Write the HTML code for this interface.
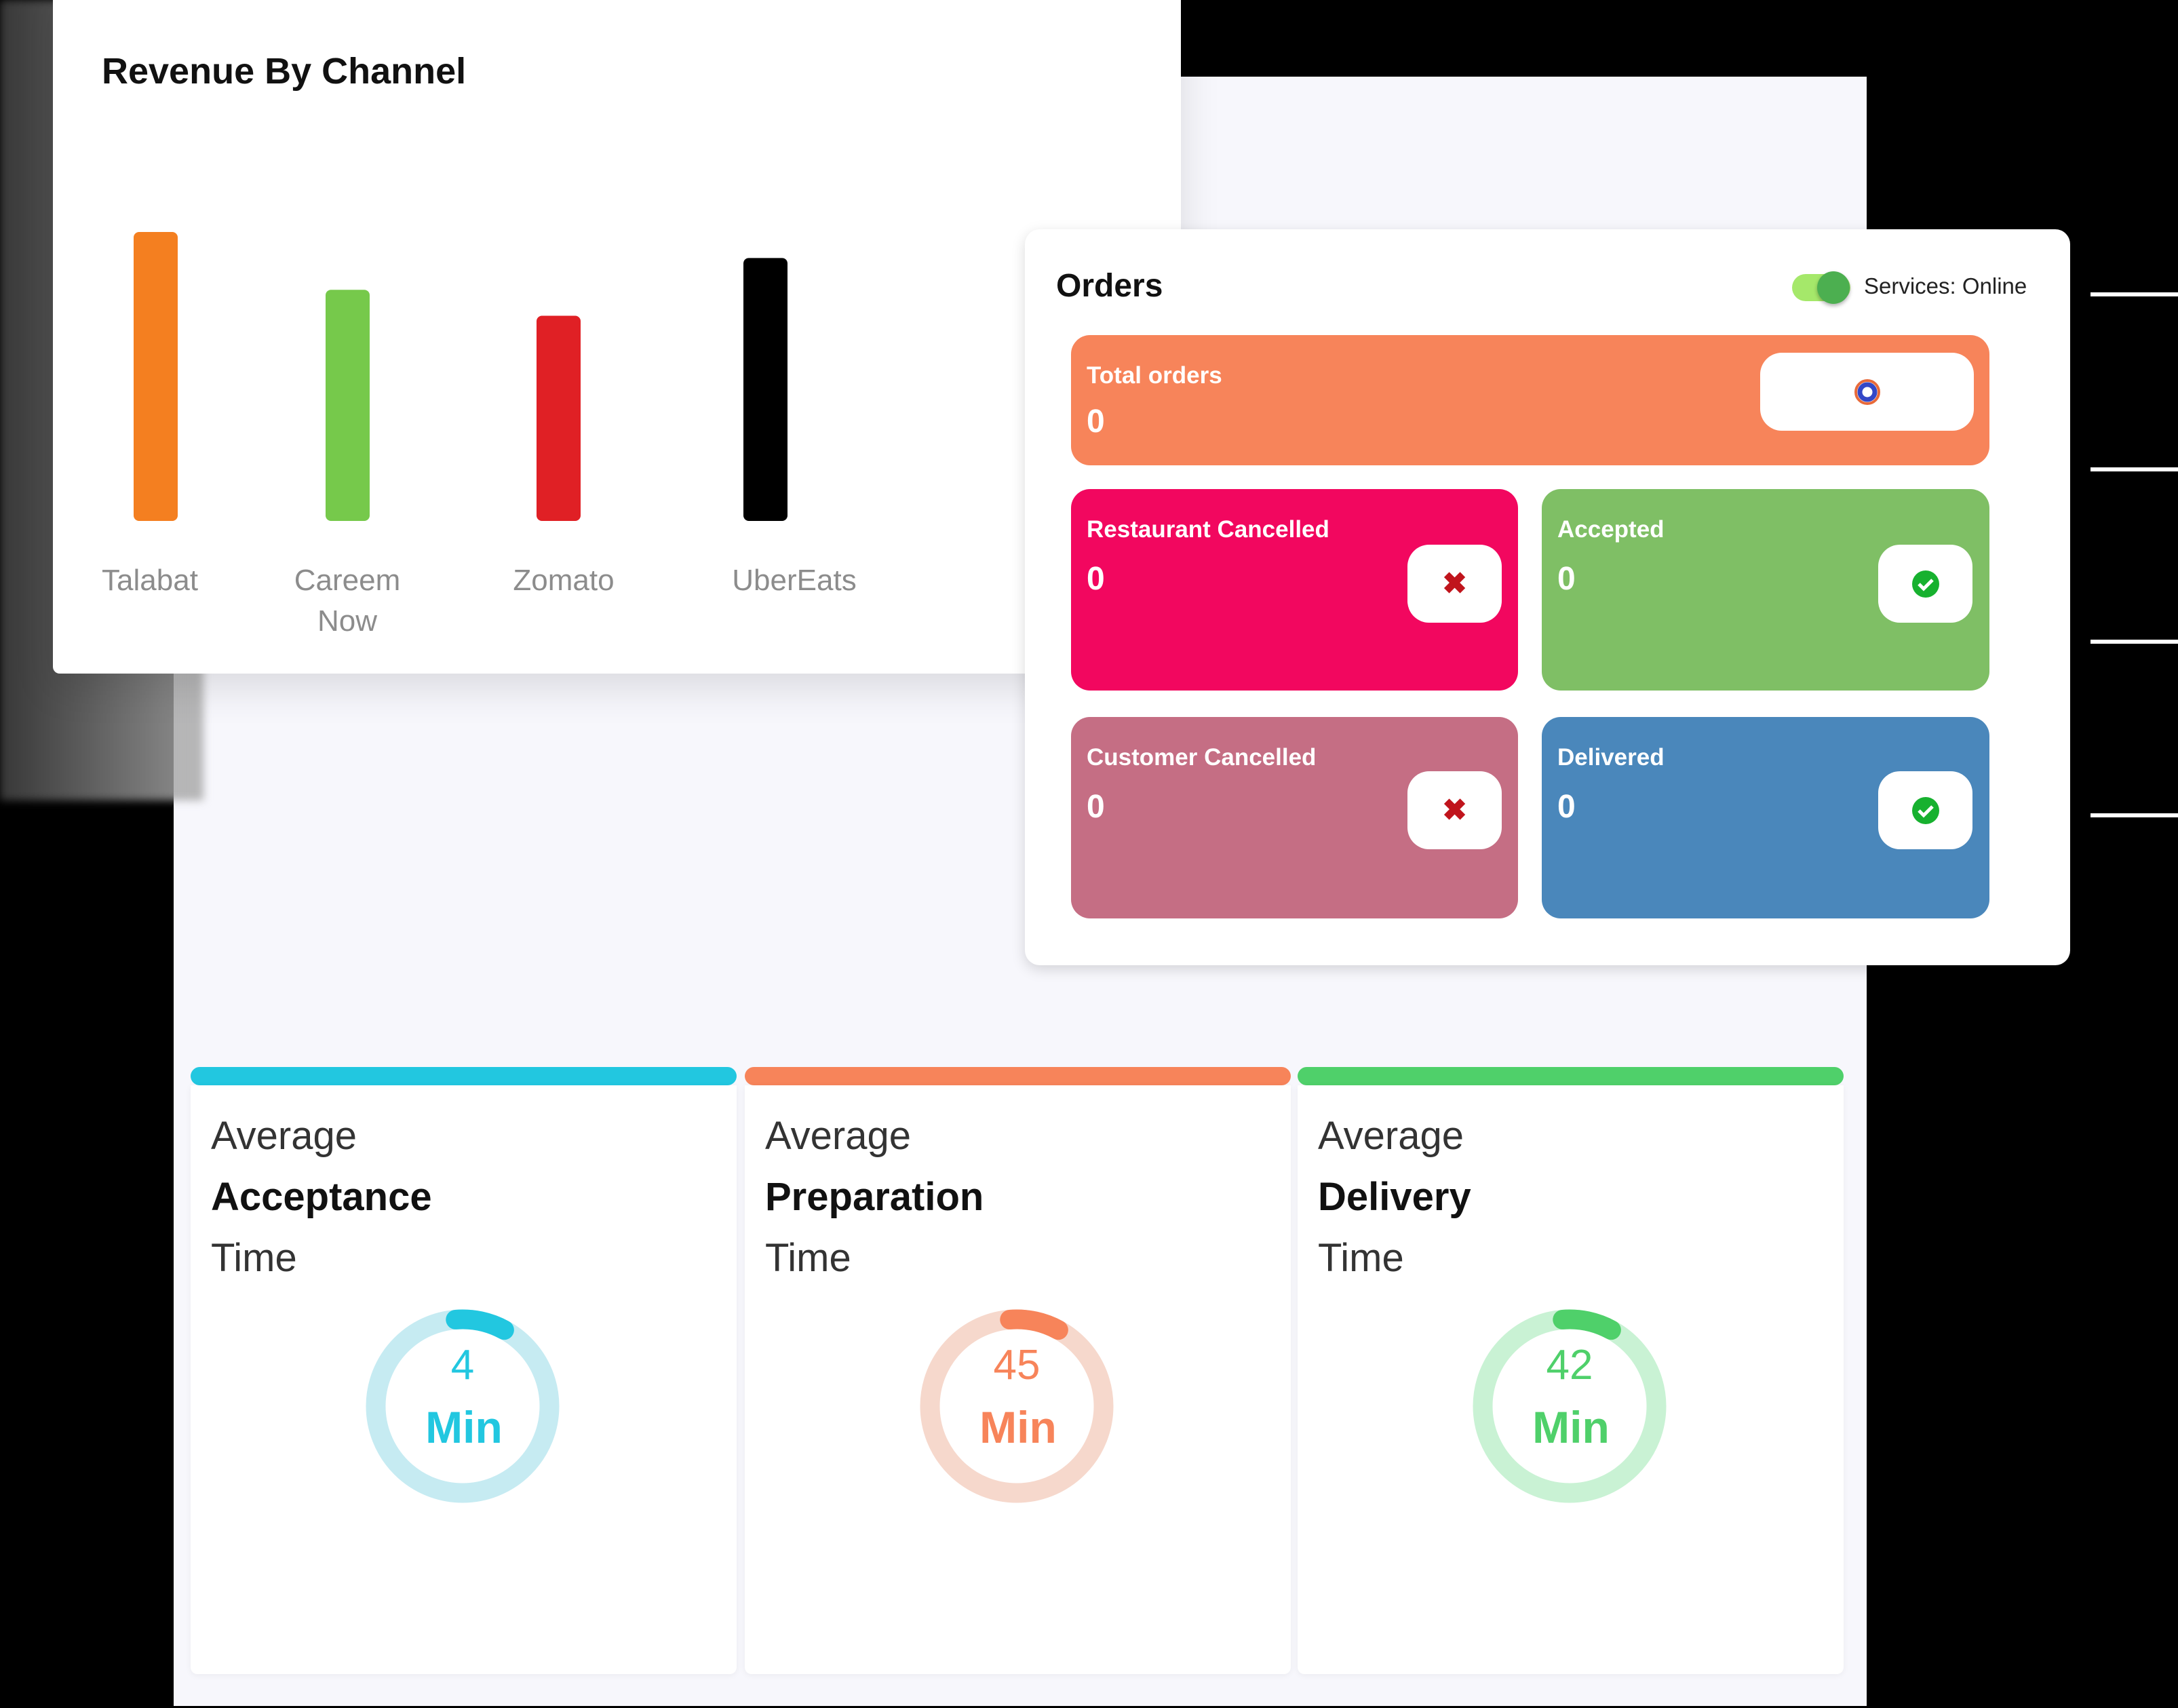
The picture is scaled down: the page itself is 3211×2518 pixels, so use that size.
<!DOCTYPE html>
<html><head><meta charset="utf-8">
<style>
*{margin:0;padding:0;box-sizing:border-box}
body{width:3211px;height:2518px;background:#000;position:relative;overflow:hidden;font-family:"Liberation Sans",sans-serif}
.abs{position:absolute}
.lav{left:256px;top:113px;width:2496px;height:2402px;background:#f7f7fc}
.haze{left:0;top:0;width:300px;height:1180px;background:linear-gradient(90deg,rgba(110,110,110,.5),rgba(170,170,170,.85));filter:blur(6px)}
.rev{left:78px;top:-20px;width:1663px;height:1013px;background:#fff;border-radius:10px;box-shadow:0 20px 60px rgba(0,0,0,.12)}
.title{left:150px;top:74px;font-size:54px;font-weight:600;color:#111}
.lbl{font-size:44px;color:#8c8c8c;text-align:center;width:300px;line-height:60px}
.orders{left:1511px;top:338px;width:1541px;height:1085px;background:#fff;border-radius:22px;box-shadow:0 6px 20px rgba(0,0,0,.15)}
.tile{border-radius:28px;color:#fff}
.tl{font-size:35px;font-weight:600}
.zero{font-size:48px;font-weight:700}
.wb{background:#fff;border-radius:32px;display:flex;align-items:center;justify-content:center}
.line{left:3082px;width:129px;height:6px;background:#fff}
.card{top:1600px;height:868px;background:#fff;border-radius:0 0 10px 10px;box-shadow:0 2px 10px rgba(0,0,0,.05)}
.bar{top:1573px;height:27px;border-radius:14px}
.avg{font-size:58px;color:#333;line-height:90px}
</style></head><body>
<div class="abs lav"></div>
<div class="abs haze"></div>

<div class="abs rev"></div>
<div class="abs title">Revenue By Channel</div>
<svg class="abs" id="chart" style="left:0;top:0" width="1741" height="1000"></svg>

<div class="abs orders"></div>
<div class="abs" style="left:1557px;top:394px;font-size:48px;font-weight:600;color:#111">Orders</div>
<div class="abs" style="left:2642px;top:404px;width:86px;height:40px;border-radius:20px;background:#a5e86a"></div>
<div class="abs" style="left:2679px;top:400px;width:48px;height:48px;border-radius:50%;background:#4caf50;box-shadow:0 3px 6px rgba(0,0,0,.3)"></div>
<div class="abs" style="left:2748px;top:403px;font-size:33px;color:#222">Services: Online</div>

<div class="abs tile" style="left:1579px;top:494px;width:1354px;height:192px;background:#f7845a">
 <div class="abs tl" style="left:23px;top:40px">Total orders</div>
 <div class="abs zero" style="left:23px;top:100px">0</div>
 <div class="abs wb" style="left:1016px;top:26px;width:315px;height:115px">
  <svg width="44" height="44"><circle cx="22" cy="22" r="17" fill="none" stroke="#e86a3a" stroke-width="4"/><circle cx="22" cy="22" r="11" fill="none" stroke="#3347c7" stroke-width="7"/></svg>
 </div>
</div>

<div class="abs tile" style="left:1579px;top:721px;width:659px;height:297px;background:#f2075f">
 <div class="abs tl" style="left:23px;top:40px">Restaurant Cancelled</div>
 <div class="abs zero" style="left:23px;top:105px">0</div>
 <div class="abs wb" style="left:496px;top:82px;width:139px;height:115px"><span style="color:#c0141c;font-size:44px;font-weight:700">✖</span></div>
</div>
<div class="abs tile" style="left:2273px;top:721px;width:660px;height:297px;background:#7fbf65">
 <div class="abs tl" style="left:23px;top:40px">Accepted</div>
 <div class="abs zero" style="left:23px;top:105px">0</div>
 <div class="abs wb" style="left:496px;top:82px;width:139px;height:115px"><svg width="44" height="44"><circle cx="22" cy="22" r="20" fill="#17b12f"/><path d="M12 22l7 7 13-13" stroke="#fff" stroke-width="5" fill="none"/></svg></div>
</div>
<div class="abs tile" style="left:1579px;top:1057px;width:659px;height:297px;background:#c56e84">
 <div class="abs tl" style="left:23px;top:40px">Customer Cancelled</div>
 <div class="abs zero" style="left:23px;top:105px">0</div>
 <div class="abs wb" style="left:496px;top:80px;width:139px;height:115px"><span style="color:#c0141c;font-size:44px;font-weight:700">✖</span></div>
</div>
<div class="abs tile" style="left:2273px;top:1057px;width:660px;height:297px;background:#4a87bb">
 <div class="abs tl" style="left:23px;top:40px">Delivered</div>
 <div class="abs zero" style="left:23px;top:105px">0</div>
 <div class="abs wb" style="left:496px;top:80px;width:139px;height:115px"><svg width="44" height="44"><circle cx="22" cy="22" r="20" fill="#17b12f"/><path d="M12 22l7 7 13-13" stroke="#fff" stroke-width="5" fill="none"/></svg></div>
</div>

<div class="abs line" style="top:431px"></div>
<div class="abs line" style="top:689px"></div>
<div class="abs line" style="top:943px"></div>
<div class="abs line" style="top:1199px"></div>

<div id="cards"></div>

<script>
const categories=["Talabat","Careem Now","Zomato","UberEats"];
const revenue=[100,80,71,91];
const barColors=["#f47f20","#76c94b","#e02025","#000000"];
const barCenters=[229,512,823,1128];
const labelCenters=[221,512,831,1171];
const svg=document.getElementById('chart');
const NS='http://www.w3.org/2000/svg';
const baseY=768, plotH=426, maxV=100;
function y(v){return baseY-v/maxV*plotH;}
categories.forEach((c,i)=>{
  const r=document.createElementNS(NS,'rect');
  r.setAttribute('x',barCenters[i]-32);r.setAttribute('width',65);
  r.setAttribute('y',y(revenue[i]));r.setAttribute('height',baseY-y(revenue[i]));
  r.setAttribute('rx',8);r.setAttribute('fill',barColors[i]);
  
  
  svg.appendChild(r);
  const d=document.createElement('div');
  d.className='abs lbl';
  d.style.left=(labelCenters[i]-150)+'px';d.style.top='826px';
  d.innerHTML=c.replace(' ','<br>');
  
  
  document.body.appendChild(d);
});

const kpiNames=["Acceptance","Preparation","Delivery"];
const kpiValues=[4,45,42];
const kpiColors=["#22c7e0","#f7845a","#4fd06a"];
const kpiTrack=["#c6ebf2","#f6d8cc","#c9f2d4"];
const cardLefts=[281,1098,1913];
const cont=document.getElementById('cards');
kpiNames.forEach((n,i)=>{
  const L=cardLefts[i];
  const bar=document.createElement('div');bar.className='abs bar';
  bar.style.cssText+=`left:${L}px;width:805px;background:${kpiColors[i]}`;
  
  
  cont.appendChild(bar);
  const card=document.createElement('div');card.className='abs card';
  card.style.cssText+=`left:${L}px;width:805px`;
  
  
  card.innerHTML=`<div class="abs avg" style="left:30px;top:30px">Average<br><b style="color:#111">${n}</b><br>Time</div>`;
  cont.appendChild(card);
  const cx=L+401, cy=2073, r=128;
  const s=document.createElementNS(NS,'svg');
  s.setAttribute('class','abs');s.setAttribute('width',320);s.setAttribute('height',320);
  s.style.left=(cx-160)+'px';s.style.top=(cy-160)+'px';
  
  
  const a0=-Math.PI/2-0.08, a1=-Math.PI/2+0.5;
  s.innerHTML=`<circle cx="160" cy="160" r="${r}" fill="none" stroke="${kpiTrack[i]}" stroke-width="29"/>
  <path d="M${160+r*Math.cos(a0)} ${160+r*Math.sin(a0)} A${r} ${r} 0 0 1 ${160+r*Math.cos(a1)} ${160+r*Math.sin(a1)}" fill="none" stroke="${kpiColors[i]}" stroke-width="29" stroke-linecap="round"/>
  <text x="160" y="120" text-anchor="middle" font-size="62" fill="${kpiColors[i]}" font-family="Liberation Sans">${kpiValues[i]}</text>
  <text x="162" y="214" text-anchor="middle" font-size="66" font-weight="700" fill="${kpiColors[i]}" font-family="Liberation Sans">Min</text>`;
  cont.appendChild(s);
});
</script>
</body></html>
